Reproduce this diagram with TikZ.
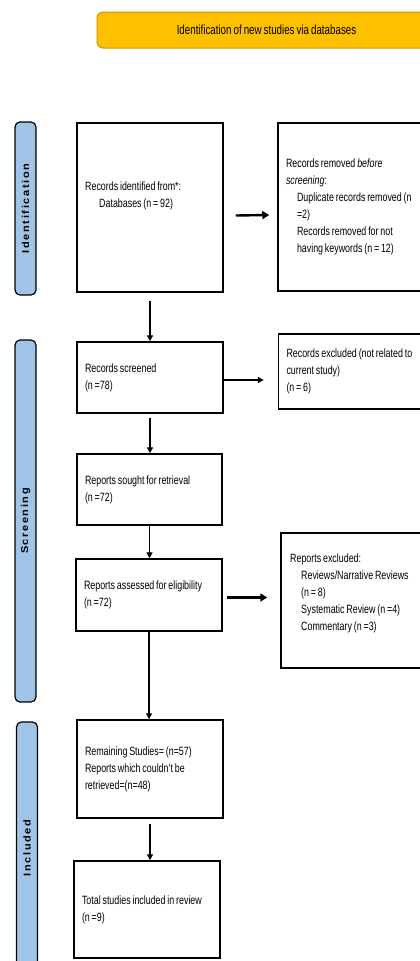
\documentclass[tikz,border=0pt]{standalone}
\usepackage{fontspec}
\setmainfont{Liberation Sans}[FakeStretch=0.74,WordSpace=0.74]
\newfontfamily\sidefont{Liberation Sans}[FakeStretch=1.1,LetterSpace=16]
\usetikzlibrary{arrows.meta,calc}
\definecolor{hdrfill}{HTML}{FFC000}
\definecolor{hdrdraw}{HTML}{C99700}
\definecolor{sidefill}{HTML}{A0C4E8}
\newcommand\pbody{\fontsize{12}{17}\selectfont}
\newcommand\ind{\hspace*{11pt}}
\begin{document}
\begin{tikzpicture}[x=1pt,y=-1pt,
  flowbox/.style={draw,line width=1.5pt,rectangle,inner sep=0pt,inner xsep=8pt,
    align=flush left,font=\pbody},
  plainbox/.style={draw,line width=1.5pt,rectangle,inner sep=0pt},
  btext/.style={inner sep=0pt,align=left,anchor=west,font=\pbody},
  sidelab/.style={draw,line width=1.2pt,fill=sidefill,rounded corners=5pt,
    rotate=90,inner sep=0pt,minimum height=21pt,
    font=\sidefont\fontsize{10}{11}\selectfont\bfseries},
  thinarrow/.style={line width=1.4pt,-{Triangle[length=6pt,width=6pt]}},
  thickarrow/.style={line width=2.4pt,-{Triangle[length=7pt,width=8pt]}}]
\useasboundingbox (0,0) rectangle (420,961);
\clip (0,0) rectangle (420,961);
\fill[white] (0,0) rectangle (420,961);

% header
\node[draw=hdrdraw,line width=1pt,fill=hdrfill,rounded corners=6pt,
  minimum width=339pt,minimum height=36pt,inner sep=0pt,
  font=\fontsize{13.2}{15}\selectfont] (hdr) at (266.5,30)
  {Identification of new studies via databases};

% side labels
\node[sidelab,minimum width=173pt] (lab1) at (25.5,208.5) {Identification};
\node[sidelab,minimum width=362pt] (lab2) at (25.5,521) {Screening};
\node[sidelab,minimum width=252pt] (lab3) at (27,848) {Included};

% boxes
\node[plainbox,minimum width=146pt,minimum height=169pt] (box1) at (150,207.5) {};
\node[btext] (t1) at (85,196) {Records identified from*:\\\hspace*{14pt}Databases (n = 92)};

\node[flowbox,text width=134pt,minimum height=168pt] (box2) at (353,207)
  {Records removed \textit{before}\\\textit{screening}:\\
   \ind Duplicate records removed (n\\\ind =2)\\
   \ind Records removed for not\\\ind having keywords (n = 12)};

\node[flowbox,text width=134pt,minimum height=75pt] (box4) at (353.5,371.5)
  {Records excluded (not related to\\current study)\\(n = 6)};

\node[flowbox,text width=130pt,minimum height=71pt] (box3) at (150,377.5)
  {Records screened\\(n =78)};

\node[flowbox,text width=129pt,minimum height=71pt] (box5) at (149.5,489.5)
  {Reports sought for retrieval\\(n =72)};

\node[flowbox,text width=130pt,minimum height=72pt] (box6) at (149,595)
  {Reports assessed for eligibility\\(n =72)};

\node[plainbox,minimum width=145pt,minimum height=135pt] (box7) at (353.5,600.5) {};
\node[btext] (t7) at (290,593)
  {Reports excluded:\\\ind Reviews/Narrative Reviews\\\ind (n = 8)\\
   \ind Systematic Review (n =4)\\\ind Commentary (n =3)};

\node[flowbox,text width=130pt,minimum height=98pt] (box8) at (150,769)
  {Remaining Studies= (n=57)\\Reports which couldn't be\\retrieved=(n=48)};

\node[flowbox,text width=130pt,minimum height=97pt] (box9) at (147,909.5)
  {Total studies included in review\\(n =9)};

% connectors
\draw[thickarrow] ($(box1.east)+(12,8)$) -- ($(box2.west)+(-8,8)$);
\draw[thinarrow,shorten <=8pt] (box1.south) -- (box1.south |- box3.north);
\draw[thinarrow] ($(box3.east)+(0,2.5)$) -- ($(box4.west |- box3.east)+(-14,2.5)$);
\draw[thinarrow,shorten <=4pt] (box3.south) -- (box3.south |- box5.north);
\draw[thinarrow] (box5.south) -- (box5.south |- box6.north);
\draw[thickarrow] ($(box6.east)+(4,2.5)$) -- ($(box7.west |- box6.east)+(-13,2.5)$);
\draw[thinarrow] (box6.south) -- (box6.south |- box8.north);
\draw[thinarrow,shorten <=5pt] (box8.south) -- (box8.south |- box9.north);
\end{tikzpicture}
\end{document}
